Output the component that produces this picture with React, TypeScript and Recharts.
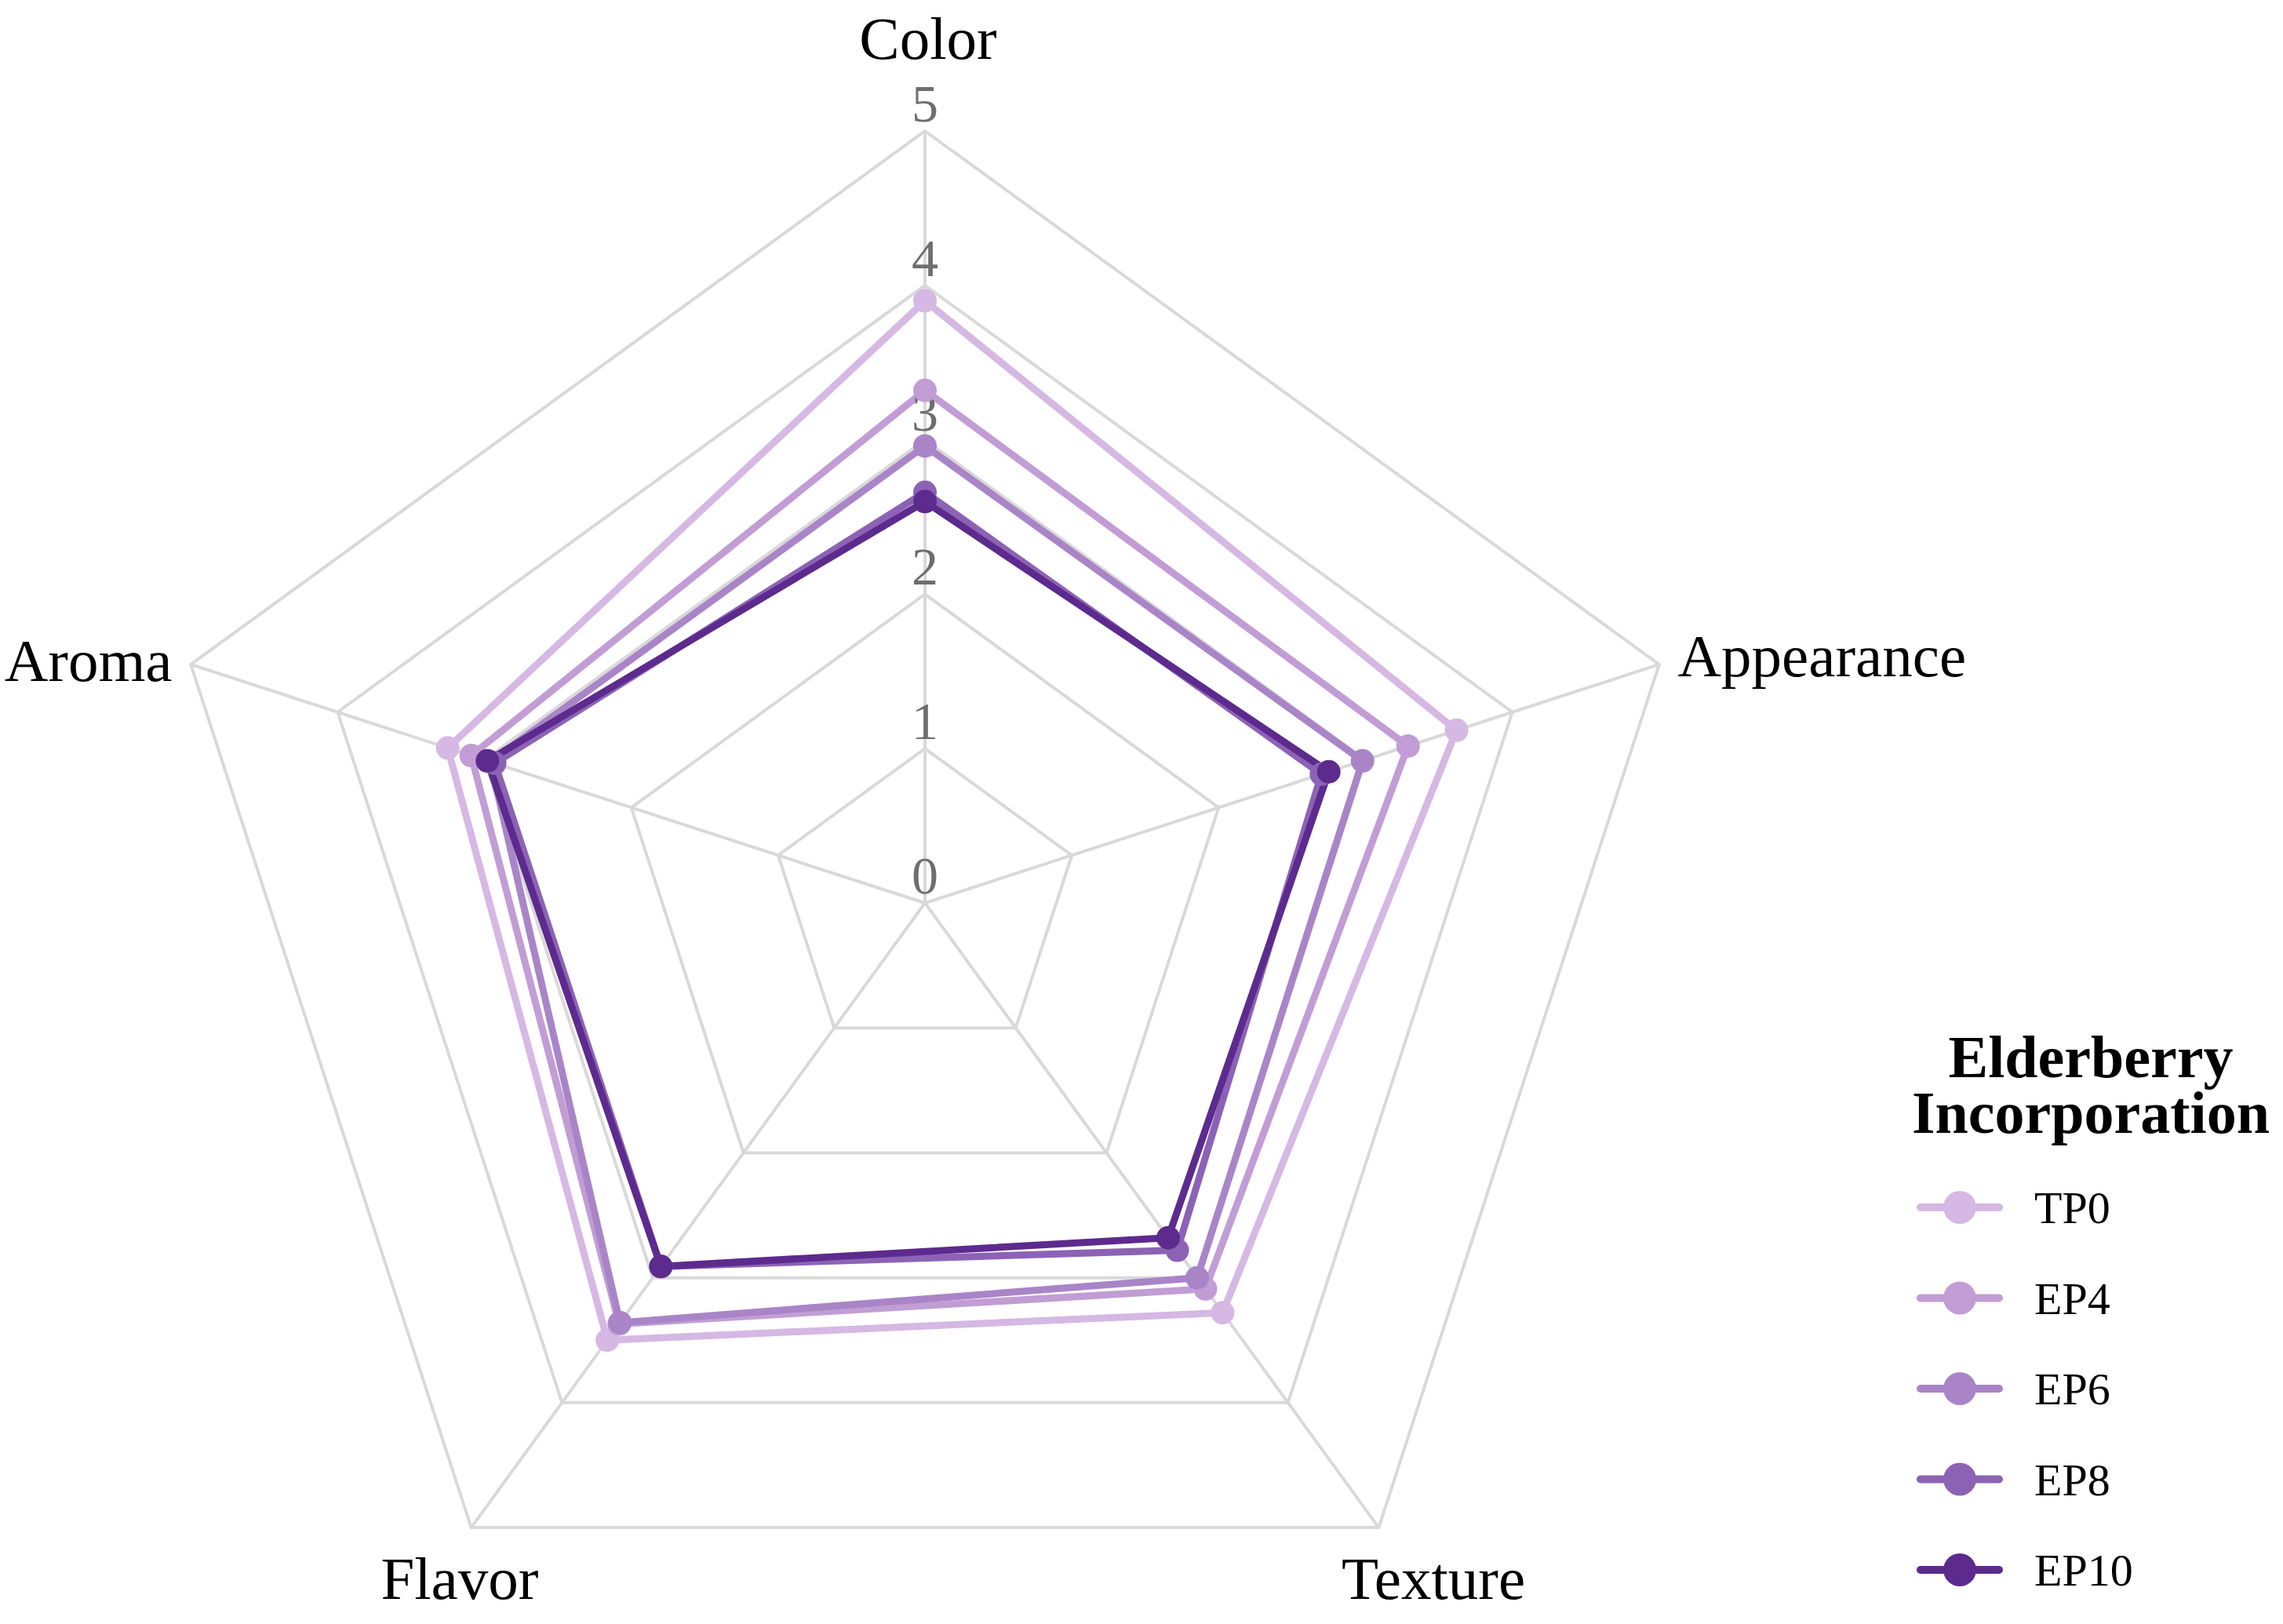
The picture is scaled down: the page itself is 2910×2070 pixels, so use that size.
import React from 'react';
import {
  RadarChart,
  Radar,
  PolarGrid,
  PolarAngleAxis,
  PolarRadiusAxis,
  Legend,
} from 'recharts';

// sensory attributes, clockwise from the top
const attributes = ['Color', 'Appearance', 'Texture', 'Flavor', 'Aroma'];

// mean scores per formulation, same order as attributes
const tp0 = [3.9, 3.62, 3.28, 3.5, 3.25];
const ep4 = [3.32, 3.29, 3.09, 3.37, 3.09];
const ep6 = [2.96, 2.98, 3.0, 3.36, 2.96];
const ep8 = [2.66, 2.7, 2.78, 2.91, 2.93];
const ep10 = [2.6, 2.75, 2.68, 2.91, 2.98];

const seriesNames = ['TP0', 'EP4', 'EP6', 'EP8', 'EP10'];
const seriesValues = [tp0, ep4, ep6, ep8, ep10];
const radiusTicks = [0, 1, 2, 3, 4, 5];
const legendTitle = ['Elderberry', 'Incorporation'];

const colors = ['#d5b8e3', '#c29dd5', '#a985c8', '#8c62b5', '#5d2a8e'];
const FONT = "'Liberation Serif', 'Times New Roman', serif";

// label nudges (dx, dy, anchor) for each angle-axis label, by attribute index
const labelNudge: [number, number, 'start' | 'middle' | 'end'][] = [
  [4, -84, 'middle'],
  [16, 18, 'start'],
  [65, 84, 'middle'],
  [-10, 84, 'middle'],
  [-16, 24, 'end'],
];

const chartData = attributes.map((attr, i) => {
  const row: Record<string, string | number> = { attr };
  seriesNames.forEach((name, s) => {
    row[name] = seriesValues[s][i];
  });
  return row;
});

function AngleTick(props: any) {
  const { x, y, payload, index } = props;
  const [dx, dy, anchor] = labelNudge[index] ?? [0, 0, 'middle'];
  return (
    <text
      x={x + dx}
      y={y + dy}
      textAnchor={anchor}
      fontSize={77}
      fontFamily={FONT}
      fill="#000"
    >
      {payload.value}
    </text>
  );
}

function RadiusTick(props: any) {
  const { x, y, payload } = props;
  return (
    <text
      x={x}
      y={y - 12}
      textAnchor="middle"
      fontSize={68}
      fontFamily={FONT}
      fill="#6e6e6e"
    >
      {payload.value}
    </text>
  );
}

function LegendBox() {
  return (
    <svg width={510} height={780} style={{ overflow: 'visible' }}>
      <text
        x={265}
        y={83}
        textAnchor="middle"
        fontSize={76}
        fontWeight="bold"
        fontFamily={FONT}
        fill="#000"
      >
        {legendTitle.map((line, i) => (
          <tspan key={line} x={265} dy={i === 0 ? 0 : 71}>
            {line}
          </tspan>
        ))}
      </text>
      {seriesNames.map((name, i) => {
        const cy = 249 + i * 115.5;
        return (
          <g key={name}>
            <line
              x1={48}
              x2={148}
              y1={cy}
              y2={cy}
              stroke={colors[i]}
              strokeWidth={10}
              strokeLinecap="round"
            />
            <circle cx={98} cy={cy} r={21} fill={colors[i]} />
            <text
              x={193}
              y={cy + 20}
              fontSize={58}
              fontFamily={FONT}
              fill="#000"
            >
              {name}
            </text>
          </g>
        );
      })}
    </svg>
  );
}

export default function App() {
  return (
    <div style={{ width: 2910, height: 2070, background: '#fff' }}>
      <style>{'body { margin: 0; }'}</style>
      <RadarChart
        width={2910}
        height={2070}
        data={chartData}
        cx={1179}
        cy={1151}
        outerRadius={984}
        margin={{ top: 0, right: 0, bottom: 0, left: 0 }}
      >
        <PolarGrid gridType="polygon" stroke="#d9d9d9" strokeWidth={4} />
        <PolarAngleAxis
          dataKey="attr"
          tick={<AngleTick />}
          axisLine={false}
          tickLine={false}
        />
        <PolarRadiusAxis
          angle={90}
          domain={[0, 5]}
          ticks={radiusTicks as any}
          tickCount={6}
          axisLine={false}
          tickLine={false}
          tick={<RadiusTick />}
        />
        {seriesNames.map((name, i) => (
          <Radar
            key={name}
            name={name}
            dataKey={name}
            stroke={colors[i]}
            strokeWidth={9}
            fill={colors[i]}
            fillOpacity={0}
            dot={{ r: 15, fill: colors[i], fillOpacity: 1, stroke: 'none' }}
            isAnimationActive={false}
          />
        ))}
        <Legend
          layout="vertical"
          align="right"
          verticalAlign="middle"
          content={() => <LegendBox />}
          wrapperStyle={{ position: 'absolute', left: 2400, top: 1290, width: 510, height: 780 }}
        />
      </RadarChart>
    </div>
  );
}
